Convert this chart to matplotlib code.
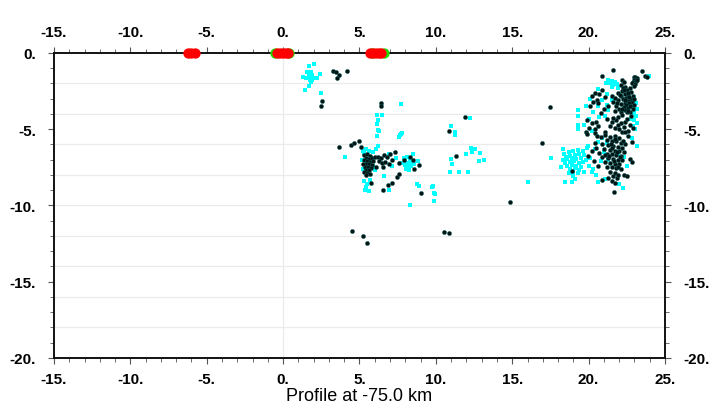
import numpy as np
import matplotlib.pyplot as plt
from matplotlib.ticker import MultipleLocator, FuncFormatter

# event locations along the profile (distance km, depth km)
cyan_pts = [
    # shallow group near x=2
    (1.72, -0.83), (2.03, -0.70), (1.59, -1.23), (1.81, -1.23), (1.33, -1.57), (1.51, -1.62),
    (1.72, -1.62), (1.90, -1.57), (2.08, -1.62), (2.21, -1.62), (1.77, -1.75), (1.90, -1.79),
    (1.81, -1.92), (1.72, -2.18), (1.46, -2.41), (2.42, -1.40), (1.68, -1.40), (1.90, -1.44),
    (2.51, -2.62),
    # middle group
    (7.70, -3.34), (6.13, -4.09), (6.48, -4.05), (6.22, -4.39), (6.13, -4.66), (6.22, -5.05),
    (6.27, -5.13), (6.13, -5.44), (7.70, -5.31), (7.57, -5.53), (7.80, -5.25), (7.65, -5.40),
    (4.08, -6.80), (5.20, -6.40), (5.40, -6.30), (5.60, -6.45), (5.90, -6.50), (6.10, -6.30),
    (5.30, -6.55), (6.20, -6.10), (5.15, -7.00), (5.20, -7.60), (5.90, -7.40), (6.00, -7.70),
    (5.30, -8.40), (5.50, -8.60), (5.40, -8.80), (5.60, -9.05), (5.35, -9.00), (5.70, -8.30),
    (6.60, -8.10), (6.90, -9.00),
    (7.90, -6.90), (8.10, -6.80), (8.30, -7.00), (8.00, -7.10), (8.20, -7.20), (8.40, -7.15),
    (7.95, -7.35), (8.15, -7.45), (8.35, -7.40), (8.05, -7.60), (8.25, -7.70), (8.60, -7.30),
    (8.80, -7.10), (7.70, -7.20), (8.50, -6.60), (7.40, -6.90), (7.10, -7.40), (6.90, -6.60),
    (8.79, -8.59), (8.88, -8.72), (9.89, -9.20), (9.75, -8.77), (9.89, -9.72), (8.31, -9.97),
    # scattered between
    (12.24, -4.24), (10.98, -4.81), (11.24, -5.16), (11.24, -5.38), (12.33, -6.25), (12.59, -6.30),
    (12.90, -6.56), (11.98, -6.60), (12.37, -6.51), (13.16, -7.00), (12.81, -7.08), (11.02, -6.95),
    (11.06, -7.26), (10.93, -7.78), (11.54, -7.83), (12.11, -7.83), (17.53, -6.91), (16.04, -8.44),
    (9.80, -8.74), (9.93, -9.23), (9.89, -9.70),
    # eastern group
    (21.30, -1.80), (21.50, -1.85), (21.70, -1.90), (21.40, -2.00), (21.60, -2.10), (21.85, -2.05),
    (21.50, -2.25), (21.90, -2.30), (23.94, -1.49), (21.15, -1.95),
    (20.64, -2.36), (20.08, -3.02), (19.82, -3.50), (19.33, -3.72), (19.29, -4.15), (19.33, -4.70),
    (19.29, -4.98), (20.86, -3.06), (20.64, -3.50), (21.19, -3.39), (21.08, -4.15), (21.30, -3.72),
    (20.30, -3.90), (20.00, -4.30), (20.70, -4.20), (19.70, -4.70), (20.20, -5.10), (21.50, -3.10),
    (21.20, -2.70),
    (22.95, -3.95), (23.10, -4.10), (23.00, -4.40), (23.15, -4.60), (22.90, -4.80), (23.05, -5.00),
    (23.20, -3.70), (22.80, -4.30), (23.00, -2.90), (23.10, -3.30), (23.15, -6.08), (22.83, -5.60),
    (22.28, -8.87),
    (18.40, -6.60), (18.70, -6.50), (19.00, -6.40), (19.30, -6.35), (19.60, -6.45), (18.50, -6.80),
    (18.80, -6.75), (19.10, -6.70), (19.40, -6.65), (19.70, -6.70), (18.30, -7.00), (18.60, -6.95),
    (18.90, -6.90), (19.20, -6.95), (19.50, -6.90), (19.80, -7.00), (18.45, -7.20), (18.75, -7.15),
    (19.05, -7.10), (19.35, -7.20), (19.65, -7.15), (18.60, -7.40), (18.90, -7.35), (19.20, -7.40),
    (19.50, -7.45), (18.80, -7.60), (19.10, -7.55), (19.40, -7.65), (18.70, -7.85), (19.00, -7.80),
    (19.30, -7.90), (18.95, -8.05), (18.20, -7.50), (18.30, -6.30), (19.90, -6.20), (20.10, -6.90),
    (20.00, -7.40), (20.30, -7.60), (19.70, -7.80),
    (18.46, -8.48), (18.90, -8.48), (19.12, -8.26), (19.99, -6.08), (20.64, -5.86), (20.43, -6.30),
    (20.21, -7.82), (21.08, -8.26), (20.64, -8.48), (21.00, -6.50), (21.30, -7.00), (20.80, -7.10),
    (22.30, -6.80), (22.50, -7.40), (21.90, -6.60), (21.20, -5.90), (20.90, -5.60), (20.50, -8.00),
    (22.00, -8.60),
]

black_pts = [
    # shallow group
    (3.29, -1.15), (3.47, -1.27), (3.65, -1.44), (3.52, -1.62), (4.21, -1.18), (2.55, -3.15),
    (2.51, -3.50),
    # middle group
    (6.44, -3.30), (6.44, -3.48),
    (3.69, -6.14), (4.47, -6.01), (4.65, -5.88), (5.00, -5.75), (5.13, -6.18),
    (5.30, -6.70), (5.50, -6.65), (5.70, -6.75), (5.40, -6.90), (5.60, -6.95), (5.80, -6.90),
    (5.30, -7.05), (5.50, -7.10), (5.70, -7.15), (5.40, -7.25), (5.60, -7.30), (5.80, -7.35),
    (5.35, -7.45), (5.55, -7.50), (5.75, -7.55), (5.45, -7.65), (5.65, -7.70), (5.30, -7.80),
    (5.50, -7.85), (5.70, -7.95), (5.90, -7.10), (6.00, -6.80), (5.25, -7.30), (5.40, -8.00),
    (6.20, -6.80), (6.40, -6.90), (6.60, -6.70), (6.80, -6.85), (7.00, -6.60), (6.30, -7.10),
    (6.50, -7.20), (6.70, -7.15), (6.90, -7.30), (7.10, -7.00), (6.55, -7.45), (7.30, -6.50),
    (7.60, -7.20), (7.90, -7.00), (8.30, -6.85), (8.50, -7.05), (8.90, -7.35), (8.60, -7.60),
    (6.10, -7.50),
    (5.78, -8.54), (7.14, -8.54), (6.87, -8.64), (6.53, -8.98), (7.48, -8.11), (7.61, -7.93),
    (9.05, -9.20),
    (4.52, -11.67), (5.22, -11.98), (5.48, -12.46), (10.54, -11.76), (10.89, -11.80),
    (11.90, -4.20), (10.89, -5.11), (11.33, -6.78), (14.86, -9.75),
    # eastern group
    (21.60, -1.14), (23.52, -1.18), (23.70, -1.49), (23.83, -1.57), (20.86, -1.53), (22.17, -1.79),
    (22.30, -1.88),
    (22.95, -1.55), (23.05, -1.60), (23.15, -1.65), (23.00, -1.75), (23.10, -1.85), (22.90, -1.90),
    (23.20, -1.75), (22.85, -2.00), (23.05, -2.05), (22.95, -2.15),
    (22.10, -2.10), (22.40, -2.20), (22.70, -2.30), (22.50, -2.45), (22.20, -2.50), (22.80, -2.55),
    (21.90, -2.60), (22.35, -2.70), (22.60, -2.75), (22.90, -2.80), (22.10, -2.85), (22.45, -2.95),
    (22.75, -3.00), (22.25, -3.05), (21.95, -3.10), (22.55, -3.15), (22.85, -3.20), (22.35, -3.25),
    (22.65, -3.30), (22.10, -3.35), (22.45, -3.40), (22.80, -3.45), (21.80, -3.50), (22.30, -3.55),
    (22.60, -3.60), (22.00, -3.65), (22.90, -3.70), (22.40, -3.75), (22.70, -3.85), (22.15, -3.90),
    (21.60, -3.20), (21.50, -2.80), (21.70, -3.80), (23.00, -3.40), (22.50, -3.90), (22.20, -4.05),
    (22.80, -4.10), (21.90, -4.20),
    (22.25, -2.30), (22.55, -2.60), (22.05, -2.75), (22.40, -3.10), (22.70, -3.50), (22.20, -3.70),
    (22.55, -3.80), (21.85, -3.30), (22.95, -3.05), (22.65, -2.90), (22.30, -2.40), (21.75, -2.95),
    (20.43, -2.62), (20.20, -2.82), (20.56, -3.06), (20.62, -3.28), (20.10, -3.48), (20.90, -2.40),
    (21.10, -2.90), (21.30, -3.50), (21.00, -3.70), (20.80, -3.95), (20.30, -3.20), (20.70, -2.70),
    (19.90, -4.40), (20.20, -4.60), (20.50, -4.50), (20.00, -4.90), (20.40, -5.00), (20.60, -4.80),
    (19.80, -5.20), (21.20, -4.30), (21.50, -4.50), (21.80, -4.40), (22.10, -4.60), (22.40, -4.50),
    (22.70, -4.70), (21.40, -4.80), (21.70, -4.95), (22.00, -5.00), (22.30, -4.85), (22.60, -5.10),
    (21.10, -5.15), (22.90, -4.90), (21.90, -4.70), (22.20, -5.20), (21.60, -4.25), (22.50, -4.30),
    (19.88, -5.31), (20.43, -5.25), (20.54, -5.42),
    (20.80, -5.50), (21.10, -5.40), (21.40, -5.50), (21.70, -5.45), (22.00, -5.60), (22.39, -5.20),
    (22.61, -5.42), (22.83, -5.86), (21.20, -5.70), (21.50, -5.80), (21.80, -5.75), (22.10, -5.90),
    (22.40, -5.95), (20.90, -6.00), (21.30, -6.05), (21.60, -6.10), (21.90, -6.15), (22.20, -6.20),
    (21.00, -6.30), (21.40, -6.35), (21.70, -6.40), (22.00, -6.45), (22.30, -6.50), (20.70, -6.55),
    (21.20, -6.60), (21.50, -6.65), (21.80, -6.70), (22.10, -6.75), (22.72, -6.95), (20.90, -6.85),
    (21.30, -6.90), (21.60, -6.95), (21.90, -7.00), (22.20, -7.05), (22.83, -7.17), (21.10, -7.15),
    (21.40, -7.20), (21.70, -7.25), (22.00, -7.30), (21.20, -7.45), (21.50, -7.50), (21.80, -7.55),
    (22.10, -7.60), (20.32, -7.06), (20.64, -7.39), (19.99, -6.73), (20.50, -6.20), (20.40, -5.90),
    (20.20, -6.40), (18.92, -7.72),
    (21.55, -6.25), (21.85, -6.50), (21.35, -6.75), (21.65, -7.10), (21.95, -7.45), (21.45, -5.95),
    (21.75, -5.65), (22.05, -6.85), (21.05, -6.70), (22.25, -5.75),
    (21.40, -7.80), (21.70, -7.85), (21.60, -8.10), (21.85, -8.20), (21.55, -8.40), (21.75, -8.50),
    (21.90, -8.00), (22.30, -8.00), (21.30, -8.20), (21.69, -9.13), (20.90, -8.30), (22.50, -8.10),
    (17.48, -3.56), (16.96, -5.90),
]

# surface markers
green_x = [-0.5, 0.4, 5.8, 6.6]
red_x = [-6.2, -6.0, -5.8, -0.4, -0.2, 0.0, 0.2, 0.3, 5.7, 5.9, 6.1, 6.3, 6.4]

plt.rcParams['font.family'] = ['Liberation Sans', 'DejaVu Sans']

fig = plt.figure(figsize=(7.2, 4.14), dpi=100)
ax = fig.add_axes([0.075, 0.133, 0.8486, 0.7366])

cx, cy = zip(*cyan_pts)
bx, by = zip(*black_pts)
ax.scatter(cx, cy, s=8, c='#00ffff', marker='s', linewidths=0, zorder=3)
ax.scatter(bx, by, s=9, c='#001414', edgecolors='#106060', linewidths=0.3, zorder=4)

ax.scatter(green_x, [0] * len(green_x), s=55, c='#22dd00', linewidths=0, zorder=5, clip_on=False)
ax.scatter(red_x, [0] * len(red_x), s=55, c='#ff0000', linewidths=0, zorder=6, clip_on=False)

ax.set_xlim(-15, 25)
ax.set_ylim(-20, 0)

for yv in range(-18, 0, 2):
    ax.axhline(yv, color='#ebebeb', lw=0.9, zorder=1)
ax.axvline(0, color='#ebebeb', lw=0.9, zorder=1)

fmt = FuncFormatter(lambda v, p: f"{v:.0f}." if v != 0 else "0.")
ax.xaxis.set_major_locator(MultipleLocator(5))
ax.xaxis.set_minor_locator(MultipleLocator(1))
ax.yaxis.set_major_locator(MultipleLocator(5))
ax.yaxis.set_minor_locator(MultipleLocator(1))
ax.xaxis.set_major_formatter(fmt)
ax.yaxis.set_major_formatter(fmt)

ax.tick_params(axis='both', which='both', direction='out', color='#555555',
               top=True, right=True, labeltop=True, labelright=True, labelsize=11)
ax.tick_params(which='major', length=4, width=0.8)
ax.tick_params(which='minor', length=3, width=0.6)
ax.tick_params(axis='x', which='major', pad=6)
ax.tick_params(axis='y', which='major', pad=9)
for lab in ax.get_xticklabels() + ax.get_yticklabels():
    lab.set_fontweight('bold')

for sp in ax.spines.values():
    sp.set_linewidth(1.4)
    sp.set_color('#111111')

ax.set_xlabel("Profile at -75.0 km", fontsize=13, labelpad=1)

fig.savefig("out.png", dpi=100)
